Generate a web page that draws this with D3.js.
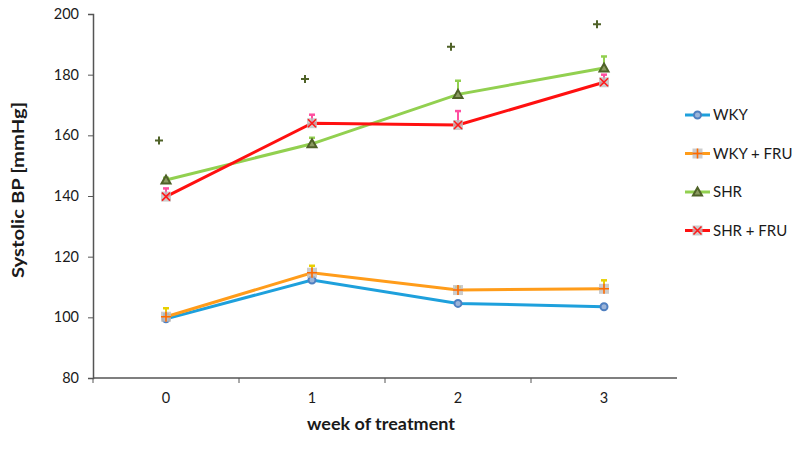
<html>
<head>
  <meta charset="utf-8" />
  <style>
    body { margin: 0; background: #fff; }
    text { font-family: Lato, "Open Sans", sans-serif; fill: #1a1a1a; }
  </style>
</head>
<body>
  <div id="chart"></div>
<script src="https://cdn.jsdelivr.net/npm/d3@7"></script>
<script>

// data
const weeks = [0, 1, 2, 3]
const seriesNames = ['WKY', 'WKY + FRU', 'SHR', 'SHR + FRU']
const wky       = [99.5, 112.3, 104.6, 103.5]
const wkyFru    = [100.2, 114.7, 109.0, 109.4]
const shr       = [145.3, 157.2, 173.5, 182.2]
const shrFru    = [139.8, 164.0, 163.4, 177.5]
// upper end of error bars
const wkyErr    = [101.0, 113.2, 105.2, 104.0]
const wkyFruErr = [103.0, 117.0, 110.0, 112.2]
const shrErr    = [146.0, 159.2, 178.0, 186.0]
const shrFruErr = [142.5, 166.8, 168.0, 180.0]
// significance marks (+)
const sigMarks  = [158.3, 178.6, 189.2, 196.6]
const yTicks = [80, 100, 120, 140, 160, 180, 200]

const series = [
  { name: seriesNames[0], vals: wky,    err: wkyErr,    line: '#1ea0dc', cap: '#33c3e8', marker: 'circle' },
  { name: seriesNames[1], vals: wkyFru, err: wkyFruErr, line: '#ff9c1a', cap: '#e8d000', marker: 'plus' },
  { name: seriesNames[2], vals: shr,    err: shrErr,    line: '#92d050', cap: '#92d050', marker: 'triangle' },
  { name: seriesNames[3], vals: shrFru, err: shrFruErr, line: '#ff1010', cap: '#ff4fa0', marker: 'cross' }
]

const W = 794, H = 450
const svg = d3.select('#chart').append('svg').attr('width', W).attr('height', H)

const x = d3.scaleBand().domain(weeks).range([93, 677])
const y = d3.scaleLinear().domain([80, 200]).range([378, 14])
const cx = d => x(d) + x.bandwidth() / 2

// axes
const yAxis = svg.append('g').attr('transform', 'translate(93,0)')
  .call(d3.axisLeft(y).tickValues(yTicks).tickSize(5).tickPadding(9))
const xAxis = svg.append('g').attr('transform', 'translate(0,378)')
  .call(d3.axisBottom(x).tickSize(0).tickPadding(15))
xAxis.selectAll('.tick').append('line')
  .attr('x1', -x.bandwidth() / 2).attr('x2', -x.bandwidth() / 2)
  .attr('y1', 0).attr('y2', 5).attr('stroke', '#555')
;[yAxis, xAxis].forEach(a => {
  a.select('.domain').attr('stroke', '#555').attr('stroke-width', 1.5)
  a.selectAll('.tick line').attr('stroke', '#555')
  a.selectAll('text').style('font-size', '14.5px').attr('fill', '#222')
})
xAxis.select('.domain').attr('d', 'M93,0H677')

svg.append('text').attr('x', 381).attr('y', 430).attr('text-anchor', 'middle')
  .attr('textLength', 148).attr('lengthAdjust', 'spacingAndGlyphs')
  .style('font-size', '17px').style('font-weight', 'bold').text('week of treatment')
svg.append('text').attr('transform', 'translate(24,190) rotate(-90)').attr('text-anchor', 'middle')
  .attr('textLength', 176).attr('lengthAdjust', 'spacingAndGlyphs')
  .style('font-size', '17px').style('font-weight', 'bold').text('Systolic BP [mmHg]')

function drawMarker(g, type) {
  if (type === 'circle') {
    g.append('circle').attr('r', 3.5).attr('fill', '#9cb4d8').attr('stroke', '#4f7fc0').attr('stroke-width', 2)
  } else if (type === 'plus') {
    g.append('rect').attr('x', -5).attr('y', -5).attr('width', 10).attr('height', 10).attr('fill', '#bfbfbf').attr('opacity', 0.8)
    g.append('path').attr('d', 'M-5,0H5M0,-5V5').attr('stroke', '#ff6a00').attr('stroke-width', 1.6)
  } else if (type === 'triangle') {
    g.append('path').attr('d', 'M0,-4.5L4.5,3.5H-4.5Z').attr('fill', '#8a9a60').attr('stroke', '#4f6228').attr('stroke-width', 2)
  } else {
    g.append('rect').attr('x', -5).attr('y', -5).attr('width', 10).attr('height', 10).attr('fill', '#bfbfbf').attr('opacity', 0.8)
    g.append('path').attr('d', 'M-4,-4L4,4M-4,4L4,-4').attr('stroke', '#ff1a1a').attr('stroke-width', 1.6)
  }
}

const line = d3.line().x((d, i) => cx(weeks[i])).y(d => y(d))

series.forEach(s => {
  const g = svg.append('g')
  // error bars
  s.err.forEach((e, i) => {
    g.append('line').attr('x1', cx(weeks[i])).attr('x2', cx(weeks[i]))
      .attr('y1', y(s.vals[i])).attr('y2', y(e)).attr('stroke', s.cap).attr('stroke-width', 2)
    g.append('line').attr('x1', cx(weeks[i]) - 3).attr('x2', cx(weeks[i]) + 3)
      .attr('y1', y(e)).attr('y2', y(e)).attr('stroke', s.cap).attr('stroke-width', 2.5)
  })
  g.append('path').datum(s.vals).attr('d', line)
    .attr('fill', 'none').attr('stroke', s.line).attr('stroke-width', 3)
  s.vals.forEach((v, i) => {
    drawMarker(g.append('g').attr('transform', `translate(${cx(weeks[i])},${y(v)})`), s.marker)
  })
})

// significance marks
svg.append('g').selectAll('path').data(sigMarks).join('path')
  .attr('transform', (d, i) => `translate(${cx(weeks[i]) - 7},${y(d)})`)
  .attr('d', 'M-4,0H4M0,-4V4').attr('stroke', '#4f6228').attr('stroke-width', 2)

// legend
const legend = svg.append('g')
series.forEach((s, i) => {
  const ly = 115 + i * 38.5
  legend.append('line').attr('x1', 685).attr('x2', 710).attr('y1', ly).attr('y2', ly)
    .attr('stroke', s.line).attr('stroke-width', 3)
  drawMarker(legend.append('g').attr('transform', `translate(697.5,${ly})`), s.marker)
  legend.append('text').attr('x', 713).attr('y', ly + 5).style('font-size', '15px').attr('fill', '#222').text(s.name)
})

</script>
</body>
</html>
